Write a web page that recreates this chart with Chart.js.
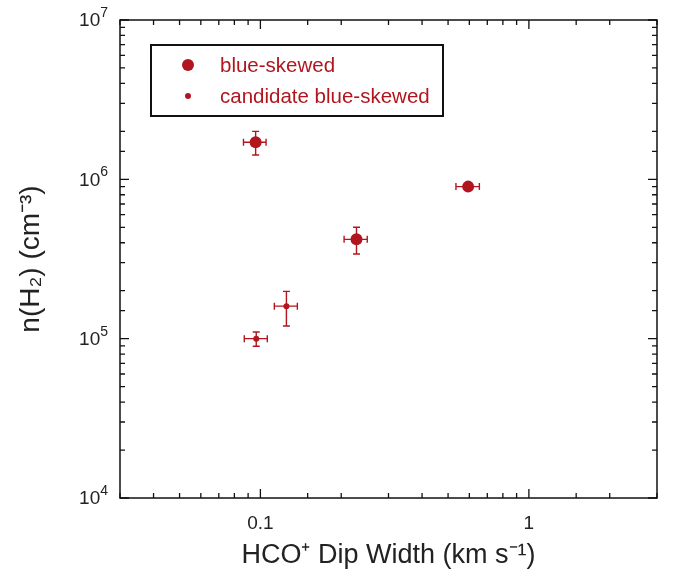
<!DOCTYPE html>
<html>
<head>
<meta charset="utf-8">
<script src="https://cdn.jsdelivr.net/npm/chart.js@4.4.0/dist/chart.umd.min.js"></script>
<style>
  body { margin: 0; background: #fff; }
  #wrap { width: 676px; height: 576px; }
</style>
</head>
<body>
<div id="wrap"><canvas id="myChart"></canvas></div>
<script>
// data
var seriesNames = ['blue-skewed', 'candidate blue-skewed'];

var blueX     = [0.096, 0.228, 0.594];
var blueY     = [1.71e6, 4.2e5, 9.0e5];
var blueXLow  = [0.0865, 0.205, 0.535];
var blueXHigh = [0.105, 0.250, 0.654];
var blueYLow  = [1.42e6, 3.4e5, 9.0e5];
var blueYHigh = [2.0e6, 5.0e5, 9.0e5];

var candX     = [0.0965, 0.125];
var candY     = [1.0e5, 1.6e5];
var candXLow  = [0.0871, 0.1127];
var candXHigh = [0.1061, 0.1373];
var candYLow  = [0.896e5, 1.2e5];
var candYHigh = [1.1e5, 1.98e5];

var xTickValues = [0.1, 1];
var xTickLabels = ['0.1', '1'];
var yTickValues = [1e4, 1e5, 1e6, 1e7];
var yTickBase   = ['10', '10', '10', '10'];
var yTickExp    = ['4', '5', '6', '7'];

var red = '#b1161e';
var fontFam = "'Liberation Sans', Arial, sans-serif";

function pts(xs, ys) {
    return xs.map(function (x, i) { return { x: x, y: ys[i] }; });
}

function findIndex(vals, v) {
    for (var i = 0; i < vals.length; i++) {
        if (Math.abs(vals[i] - v) / vals[i] < 1e-6) return i;
    }
    return -1;
}

function isDecade(v) {
    var l = Math.log10(v);
    return Math.abs(l - Math.round(l)) < 1e-6;
}

// error bars, drawn under the points
var errorBars = {
    id: 'errorBars',
    beforeDatasetsDraw: function (chart) {
        var ctx = chart.ctx, xs = chart.scales.x, ys = chart.scales.y;
        var cap = 3.5;
        chart.data.datasets.forEach(function (ds) {
            var e = ds.err;
            ctx.save();
            ctx.strokeStyle = ds.borderColor;
            ctx.lineWidth = 1.4;
            ds.data.forEach(function (p, i) {
                var px = xs.getPixelForValue(p.x), py = ys.getPixelForValue(p.y);
                var x0 = xs.getPixelForValue(e.xl[i]), x1 = xs.getPixelForValue(e.xh[i]);
                ctx.beginPath();
                ctx.moveTo(x0, py); ctx.lineTo(x1, py);
                ctx.moveTo(x0, py - cap); ctx.lineTo(x0, py + cap);
                ctx.moveTo(x1, py - cap); ctx.lineTo(x1, py + cap);
                if (e.yl[i] !== e.yh[i]) {
                    var y0 = ys.getPixelForValue(e.yl[i]), y1 = ys.getPixelForValue(e.yh[i]);
                    ctx.moveTo(px, y0); ctx.lineTo(px, y1);
                    ctx.moveTo(px - cap, y0); ctx.lineTo(px + cap, y0);
                    ctx.moveTo(px - cap, y1); ctx.lineTo(px + cap, y1);
                }
                ctx.stroke();
            });
            ctx.restore();
        });
    }
};

// box frame with inward ticks on all four sides, plus 10^n labels on y
var frameTicks = {
    id: 'frameTicks',
    afterDraw: function (chart) {
        var ctx = chart.ctx, a = chart.chartArea, xs = chart.scales.x, ys = chart.scales.y;
        ctx.save();
        ctx.strokeStyle = '#111';
        ctx.lineWidth = 1.5;
        ctx.strokeRect(a.left, a.top, a.right - a.left, a.bottom - a.top);
        ctx.lineWidth = 1.3;
        ctx.beginPath();
        xs.ticks.forEach(function (t) {
            var px = xs.getPixelForValue(t.value);
            var len = isDecade(t.value) ? 9 : 5;
            ctx.moveTo(px, a.bottom); ctx.lineTo(px, a.bottom - len);
            ctx.moveTo(px, a.top); ctx.lineTo(px, a.top + len);
        });
        ys.ticks.forEach(function (t) {
            var py = ys.getPixelForValue(t.value);
            var len = isDecade(t.value) ? 9 : 5;
            ctx.moveTo(a.left, py); ctx.lineTo(a.left + len, py);
            ctx.moveTo(a.right, py); ctx.lineTo(a.right - len, py);
        });
        ctx.stroke();

        // y tick labels with raised exponent
        ctx.fillStyle = '#222';
        ctx.textBaseline = 'middle';
        ctx.textAlign = 'left';
        ys.ticks.forEach(function (t) {
            var i = findIndex(yTickValues, t.value);
            if (i < 0) return;
            var py = ys.getPixelForValue(t.value);
            ctx.font = '14px ' + fontFam;
            var we = ctx.measureText(yTickExp[i]).width;
            ctx.font = '19px ' + fontFam;
            var wb = ctx.measureText(yTickBase[i]).width;
            var xr = a.left - 12;
            ctx.fillText(yTickBase[i], xr - we - wb, py + 1);
            ctx.font = '14px ' + fontFam;
            ctx.fillText(yTickExp[i], xr - we, py - 7);
        });
        ctx.restore();
    }
};

// legend box in the upper left of the plot
var boxLegend = {
    id: 'boxLegend',
    afterDraw: function (chart) {
        var ctx = chart.ctx, a = chart.chartArea;
        var bx = a.left + 31, by = a.top + 25, bw = 292, bh = 71;
        ctx.save();
        ctx.lineWidth = 2;
        ctx.strokeStyle = '#111';
        ctx.strokeRect(bx, by, bw, bh);
        ctx.font = '20.5px ' + fontFam;
        ctx.textBaseline = 'middle';
        chart.data.datasets.forEach(function (ds, i) {
            var cy = by + 20 + i * 31;
            ctx.fillStyle = ds.backgroundColor;
            ctx.beginPath();
            ctx.arc(bx + 37, cy, ds.pointRadius, 0, Math.PI * 2);
            ctx.fill();
            ctx.fillText(ds.label, bx + 69, cy + 1);
        });
        ctx.restore();
    }
};

var ctx = document.getElementById('myChart').getContext('2d');
var myChart = new Chart(ctx, {
    type: 'scatter',
    data: {
        datasets: [
            {
                label: seriesNames[0],
                data: pts(blueX, blueY),
                err: { xl: blueXLow, xh: blueXHigh, yl: blueYLow, yh: blueYHigh },
                backgroundColor: red,
                borderColor: red,
                pointRadius: 6,
                pointBorderWidth: 0
            },
            {
                label: seriesNames[1],
                data: pts(candX, candY),
                err: { xl: candXLow, xh: candXHigh, yl: candYLow, yh: candYHigh },
                backgroundColor: red,
                borderColor: red,
                pointRadius: 3,
                pointBorderWidth: 0
            }
        ]
    },
    options: {
        responsive: true,
        maintainAspectRatio: false,
        animation: false,
        layout: { padding: { top: 20, right: 19, left: 0, bottom: 0 } },
        plugins: {
            legend: { display: false },
            tooltip: { enabled: false }
        },
        scales: {
            x: {
                type: 'logarithmic',
                min: 0.03,
                max: 3,
                grid: { display: false },
                border: { display: false },
                ticks: {
                    autoSkip: false,
                    maxRotation: 0,
                    padding: 6,
                    color: '#222',
                    font: { family: fontFam, size: 19 },
                    callback: function (v) {
                        var i = findIndex(xTickValues, v);
                        return i < 0 ? '' : xTickLabels[i];
                    }
                },
                title: {
                    display: true,
                    text: 'HCO⁺ Dip Width (km s⁻¹)',
                    color: '#222',
                    font: { family: fontFam, size: 27 },
                    padding: { top: 0, bottom: 4 }
                },
                afterFit: function (s) { s.height = 78; }
            },
            y: {
                type: 'logarithmic',
                min: 1e4,
                max: 1e7,
                grid: { display: false },
                border: { display: false },
                ticks: {
                    autoSkip: false,
                    display: false
                },
                title: {
                    display: true,
                    text: 'n(H₂) (cm⁻³)',
                    color: '#222',
                    font: { family: fontFam, size: 28 },
                    padding: { top: 14, bottom: 0 }
                },
                afterFit: function (s) { s.width = 120; }
            }
        }
    },
    plugins: [errorBars, frameTicks, boxLegend]
});
</script>
</body>
</html>
